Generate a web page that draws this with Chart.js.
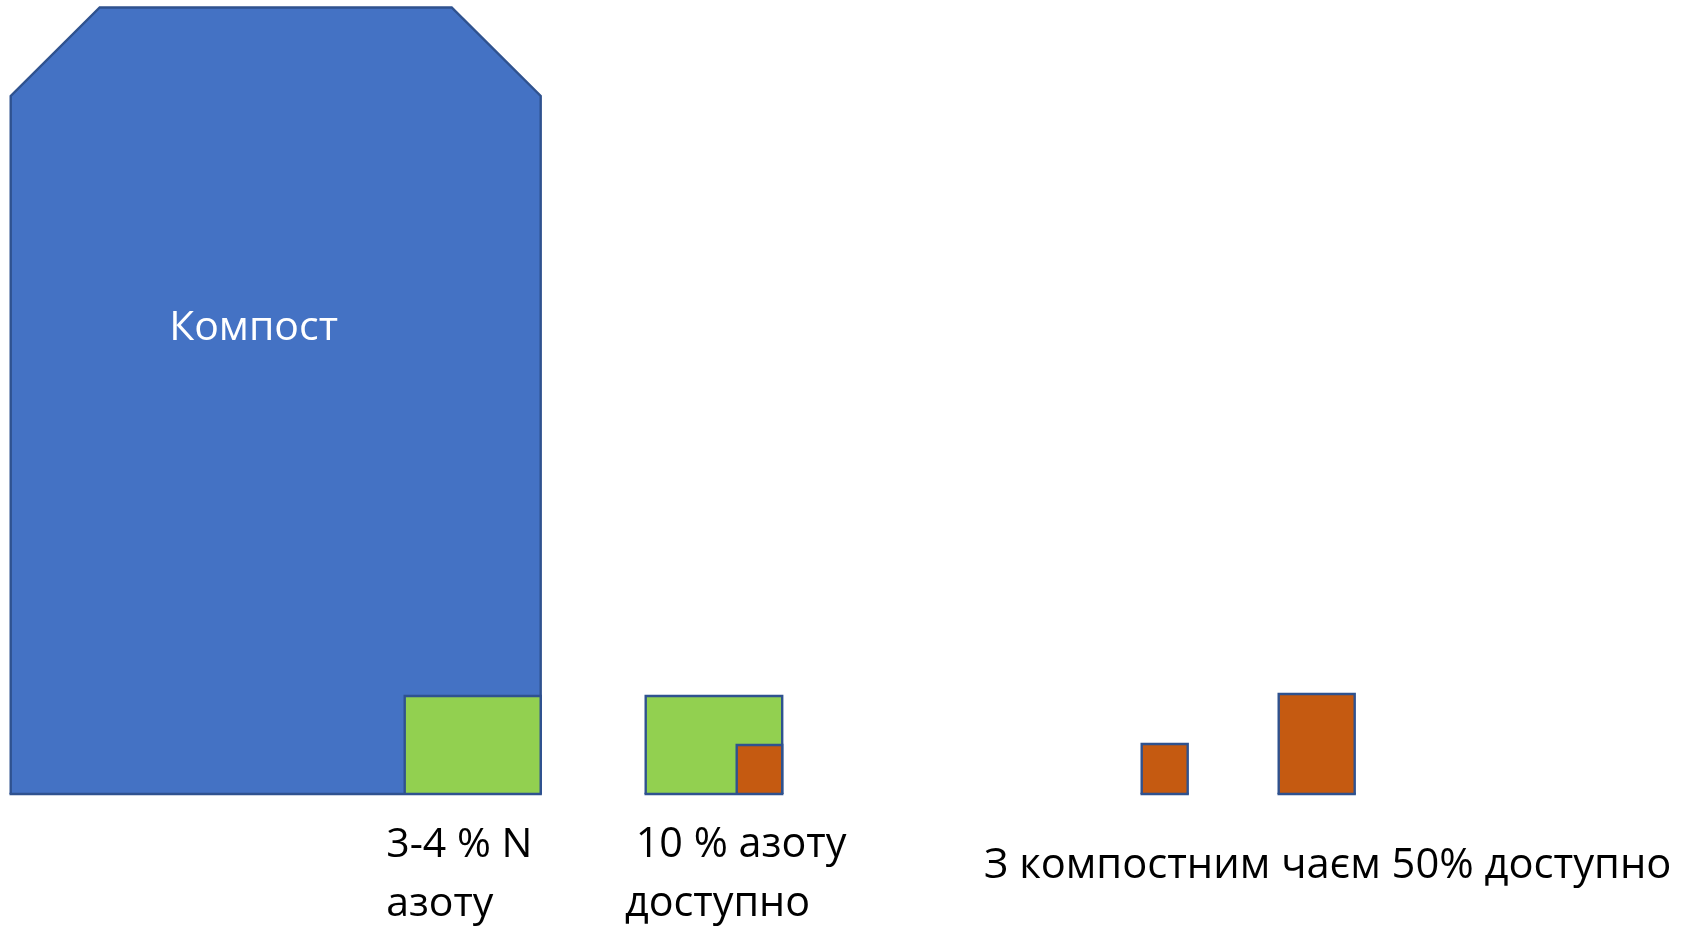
<!DOCTYPE html>
<html>
<head>
<meta charset="utf-8">
<script src="https://cdn.jsdelivr.net/npm/chart.js@4.4.1/dist/chart.umd.min.js"></script>
<style>
  html, body { margin: 0; padding: 0; background: #ffffff; }
  #wrap { width: 1682px; height: 926px; position: relative; }
</style>
</head>
<body>
<div id="wrap"><canvas id="c"></canvas></div>
<script>
// Compost heap: width, shoulder height, peak height, size of the cut corners
const heapWidth = 530;
const heapShoulder = 698;
const heapTop = 786.5;
const heapCut = 89;

// Boxes standing on the ground line
const boxNames = ['Азот у компості', 'Азот', 'Доступний азот', 'Компостний чай', 'Доступно з чаєм'];
const boxLeft = [394, 635, 726, 1131, 1268];
const boxRight = [530, 771.5, 771.5, 1177, 1344];
const boxHeight = [98, 98, 49, 50, 100];
const boxKind = ['nitrogen', 'nitrogen', 'available', 'available', 'available'];

// Caption texts
const heapLabel = 'Компост';
const captionN = ['3-4 % N', 'азоту'];
const captionAvail = [' 10 % азоту', 'доступно'];
const captionTea = ['З компостним чаєм 50% доступно'];

// Styling
const fillColors = { heap: '#4472C4', nitrogen: '#92D050', available: '#C55A11' };
const edgeColor = '#2F528F';
const edgeWidth = 2.4;
const textFont = '"Open Sans", "Noto Sans", sans-serif';

function outline(left, right, height) {
  return [
    { x: left, y: 0 }, { x: left, y: height },
    { x: right, y: height }, { x: right, y: 0 }
  ];
}

const datasets = [];

datasets.push({
  label: heapLabel,
  data: [
    { x: 0, y: 0 }, { x: 0, y: heapShoulder },
    { x: heapCut, y: heapTop }, { x: heapWidth - heapCut, y: heapTop },
    { x: heapWidth, y: heapShoulder }, { x: heapWidth, y: 0 }
  ],
  backgroundColor: fillColors.heap,
  borderColor: edgeColor,
  borderWidth: edgeWidth,
  fill: 'origin',
  order: 20
});

boxNames.forEach((name, i) => {
  datasets.push({
    label: name,
    data: outline(boxLeft[i], boxRight[i], boxHeight[i]),
    backgroundColor: fillColors[boxKind[i]],
    borderColor: edgeColor,
    borderWidth: edgeWidth,
    fill: 'origin',
    order: 15 - i
  });
});

// Ground edges: merge the footprints of all shapes into separate spans
const spans = [[0, heapWidth]].concat(boxLeft.map((l, i) => [l, boxRight[i]]))
  .sort((a, b) => a[0] - b[0]);
const merged = [];
spans.forEach(([l, r]) => {
  const last = merged[merged.length - 1];
  if (last && l <= last[1]) last[1] = Math.max(last[1], r);
  else merged.push([l, r]);
});
merged.forEach(([l, r], k) => {
  datasets.push({
    label: 'ground ' + k,
    data: [{ x: l, y: 0 }, { x: r, y: 0 }],
    borderColor: edgeColor,
    borderWidth: edgeWidth,
    borderCapStyle: 'square',
    fill: false,
    order: 0
  });
});

const captions = {
  id: 'captions',
  afterDraw(chart) {
    const { ctx, scales: { x, y } } = chart;
    const put = (lines, xv, yvs, color, size) => {
      ctx.save();
      ctx.fillStyle = color;
      ctx.font = size + 'px ' + textFont;
      ctx.textAlign = 'left';
      ctx.textBaseline = 'alphabetic';
      lines.forEach((t, k) => ctx.fillText(t, x.getPixelForValue(xv), y.getPixelForValue(yvs[k])));
      ctx.restore();
    };
    put([heapLabel], 158.5, [454], '#ffffff', 41);
    put(captionN, 375.5, [-63, -122], '#000000', 41);
    put(captionAvail, 614.3, [-63, -122], '#000000', 41.3);
    put(captionTea, 973.3, [-84], '#000000', 41.7);
  }
};

new Chart(document.getElementById('c'), {
  type: 'line',
  data: { datasets },
  options: {
    responsive: true,
    maintainAspectRatio: false,
    animation: false,
    layout: { padding: 0 },
    elements: {
      point: { radius: 0, hoverRadius: 0 },
      line: { tension: 0, borderJoinStyle: 'miter' }
    },
    scales: {
      x: { type: 'linear', min: -10.7, max: 1671.3, display: false },
      y: { type: 'linear', min: -132, max: 794, display: false }
    },
    plugins: {
      legend: { display: false },
      tooltip: { enabled: false }
    }
  },
  plugins: [captions]
});
</script>
</body>
</html>
